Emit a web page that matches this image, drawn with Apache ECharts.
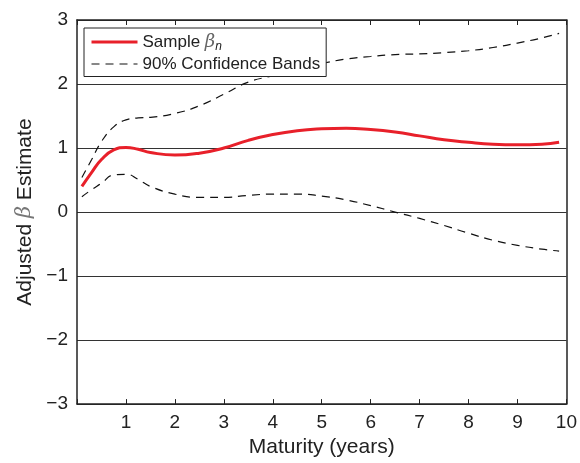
<!DOCTYPE html>
<html>
<head>
<meta charset="utf-8">
<script src="https://cdn.jsdelivr.net/npm/echarts@6/dist/echarts.min.js"></script>
<style>
  html, body { margin: 0; padding: 0; background: #fff; }
  #chart { width: 580px; height: 463px; }
</style>
</head>
<body>
<div id="chart"></div>
<script>
// maturity grid (years)
var maturity = [0.1, 0.3, 0.5, 0.75, 1, 1.25, 1.5, 2, 2.5, 3, 3.5, 4, 4.5, 5, 5.5, 6, 6.5, 7, 7.5, 8, 8.5, 9, 9.5, 9.85];
// sample beta_n
var sampleBeta = [0.40, 0.62, 0.82, 0.97, 1.01, 0.98, 0.93, 0.89, 0.92, 1.00, 1.12, 1.21, 1.27, 1.30, 1.31, 1.29, 1.25, 1.19, 1.13, 1.09, 1.06, 1.05, 1.06, 1.09];
// 90% bands
var upperBand = [0.54, 0.82, 1.10, 1.33, 1.44, 1.47, 1.48, 1.54, 1.66, 1.84, 2.03, 2.13, 2.24, 2.32, 2.39, 2.43, 2.46, 2.47, 2.49, 2.52, 2.57, 2.64, 2.72, 2.79];
var lowerBand = [0.24, 0.35, 0.45, 0.58, 0.59, 0.51, 0.40, 0.28, 0.23, 0.23, 0.26, 0.28, 0.28, 0.25, 0.19, 0.10, 0.00, -0.10, -0.21, -0.33, -0.44, -0.52, -0.58, -0.61];
var xTicks = [1, 2, 3, 4, 5, 6, 7, 8, 9, 10];

function pairs(ys) {
    return maturity.map(function (x, i) { return [x, ys[i]]; });
}

var font = 'Liberation Sans, Arial, sans-serif';
var dash = [8, 6];
var myChart = echarts.init(document.getElementById('chart'));

var option = {
    animation: false,
    textStyle: { fontFamily: font },
    grid: { left: 77, right: 13, top: 20, bottom: 58, containLabel: false },
    legend: {
        orient: 'vertical',
        left: 84, top: 28,
        padding: [5, 6, 4, 6],
        itemGap: 3,
        itemWidth: 46, itemHeight: 19,
        backgroundColor: '#fff',
        borderColor: '#222', borderWidth: 1,
        itemStyle: { color: 'transparent', borderWidth: 0, opacity: 0 },
        data: [
            { name: 'Sample', lineStyle: { width: 3, color: '#e8202a' } },
            { name: '90% Confidence Bands', lineStyle: { width: 1.2, color: '#111', type: dash } }
        ],
        textStyle: {
            fontSize: 17, color: '#222', fontFamily: font,
            rich: {
                b: { fontSize: 18, fontStyle: 'italic', color: '#666', fontFamily: 'DejaVu Serif' },
                n: { fontSize: 12, fontStyle: 'italic', color: '#222', padding: [9, 0, 0, 0] }
            }
        },
        formatter: function (name) {
            if (name === 'Sample') return 'Sample {b|β}{n|n}';
            return name;
        }
    },
    xAxis: [{
        type: 'value', min: 0, max: 10, interval: 1,
        name: 'Maturity (years)', nameLocation: 'middle', nameGap: 31,
        nameTextStyle: { fontSize: 21, color: '#222' },
        axisLine: { show: true, onZero: false, lineStyle: { color: '#222', width: 1.5 } },
        axisTick: { show: true, inside: true, length: 5, lineStyle: { color: '#222' } },
        axisLabel: {
            fontSize: 19, color: '#222', margin: 9,
            formatter: function (v) { return xTicks.indexOf(v) >= 0 ? String(v) : ''; }
        },
        splitLine: { show: false }
    }, {
        type: 'value', min: 0, max: 10, interval: 1, position: 'top',
        axisLine: { show: true, onZero: false, lineStyle: { color: '#222', width: 1.5 } },
        axisTick: { show: true, inside: true, length: 5, lineStyle: { color: '#222' } },
        axisLabel: { show: false },
        splitLine: { show: false }
    }],
    yAxis: [{
        type: 'value', min: -3, max: 3, interval: 1,
        name: 'Adjusted {b|β} Estimate', nameLocation: 'middle', nameGap: 35,
        nameTextStyle: {
            fontSize: 21, color: '#222',
            rich: { b: { fontSize: 21, fontStyle: 'italic', color: '#777', fontFamily: 'DejaVu Serif' } }
        },
        axisLine: { show: true, onZero: false, lineStyle: { color: '#222', width: 1.5 } },
        axisTick: { show: false },
        axisLabel: {
            fontSize: 19, color: '#222', margin: 9,
            formatter: function (v) { return v < 0 ? '\u2212' + (-v) : String(v); }
        },
        splitLine: { show: true, lineStyle: { color: '#333', width: 1 } }
    }, {
        type: 'value', min: -3, max: 3, interval: 1, position: 'right',
        axisLine: { show: true, onZero: false, lineStyle: { color: '#222', width: 1.5 } },
        axisTick: { show: false },
        axisLabel: { show: false },
        splitLine: { show: false }
    }],
    series: [
        {
            name: '90% Confidence Bands', type: 'line', smooth: true,
            symbol: 'none', showSymbol: false,
            data: pairs(upperBand),
            lineStyle: { color: '#111', width: 1.2, type: dash },
            itemStyle: { color: '#111' },
            z: 2
        },
        {
            name: '90% Confidence Bands', type: 'line', smooth: true,
            symbol: 'none', showSymbol: false,
            data: pairs(lowerBand),
            lineStyle: { color: '#111', width: 1.2, type: dash },
            itemStyle: { color: '#111' },
            z: 2
        },
        {
            name: 'Sample', type: 'line', smooth: true,
            symbol: 'none', showSymbol: false,
            data: pairs(sampleBeta),
            lineStyle: { color: '#e8202a', width: 3 },
            itemStyle: { color: '#e8202a' },
            z: 3
        }
    ]
};
myChart.setOption(option);
</script>
</body>
</html>
